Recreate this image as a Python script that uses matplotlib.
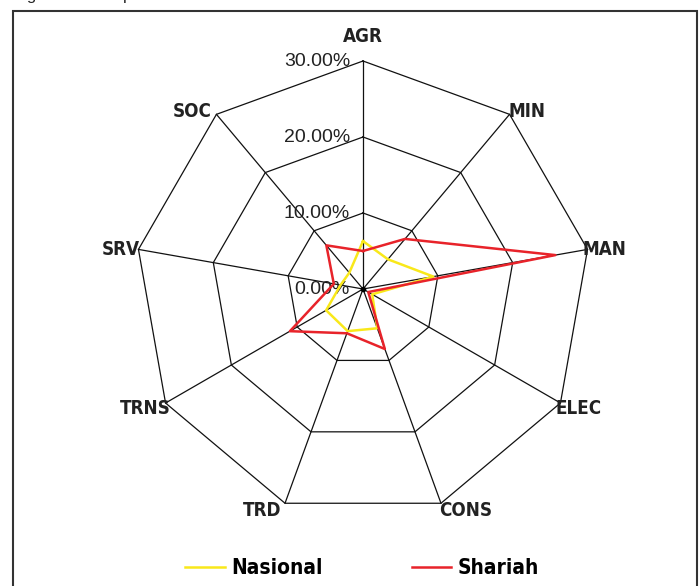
import numpy as np
import matplotlib
matplotlib.use("Agg")
from matplotlib import pyplot as plt
from matplotlib.patches import Rectangle

# data (percent)
sectors = ["AGR", "MIN", "MAN", "ELEC", "CONS", "TRD", "TRNS", "SRV", "SOC"]
nasional = [6.3, 5.1, 9.4, 1.4, 5.5, 5.9, 5.6, 3.0, 2.8]
shariah = [5.0, 8.6, 25.7, 0.8, 8.4, 6.2, 11.1, 3.9, 7.5]
rings = [0, 10, 20, 30]
ring_labels = ["0.00%", "10.00%", "20.00%", "30.00%"]

W, H = 700, 586
cx, cy = 363, 289          # centre in pixels (from top-left)
ppu = 7.6                  # pixels per percent

# label nudges (pixels) from each outer vertex, like Excel places them
lab_off = [(0, 24), (17, 3), (17, 0), (18, -6), (25, -7),
           (-23, -7), (-20, -6), (-18, 0), (-24, 3)]

fig = plt.figure(figsize=(W / 100, H / 100), dpi=100)
ax = fig.add_axes([0, 0, 1, 1])
ax.set_xlim(-cx / ppu, (W - cx) / ppu)
ax.set_ylim(-(H - cy) / ppu, cy / ppu)
ax.axis("off")

n = len(sectors)
ang = np.deg2rad(90 - 360 / n * np.arange(n))
ang_c = np.append(ang, ang[0])

# polygon grid and spokes
rmax = rings[-1]
for r in rings[1:]:
    ax.plot(r * np.cos(ang_c), r * np.sin(ang_c), color="#111111", lw=0.9, zorder=1)
for a in ang:
    ax.plot([0, rmax * np.cos(a)], [0, rmax * np.sin(a)], color="#111111", lw=0.9, zorder=1)
ax.plot([0], [0], "o", color="black", ms=3, zorder=1)

# radial labels
for r, lab in zip(rings, ring_labels):
    ax.text(-1.7, r, lab, ha="right", va="center", fontsize=14,
            family="Liberation Sans", color="#222222", zorder=2)

# sector labels
for a, s, off in zip(ang, sectors, lab_off):
    ax.annotate(s, (rmax * np.cos(a), rmax * np.sin(a)), xytext=off,
                textcoords="offset pixels", ha="center", va="center",
                fontsize=13.5, fontweight="bold", fontstretch="condensed",
                family="DejaVu Sans", color="#222222")

# series
vals_n = np.append(nasional, nasional[0])
vals_s = np.append(shariah, shariah[0])
ln1, = ax.plot(vals_n * np.cos(ang_c), vals_n * np.sin(ang_c), color="#F9E81A", lw=1.8,
               label="Nasional", zorder=3)
ln2, = ax.plot(vals_s * np.cos(ang_c), vals_s * np.sin(ang_c), color="#E8232A", lw=1.8,
               label="Shariah", zorder=4)

# frame and title (title is clipped by the top edge, as in the source)
fig.patches.append(Rectangle((13 / W, -0.02), (697 - 13) / W, 1 - 11 / H + 0.02,
                             transform=fig.transFigure, fill=False, lw=1.5,
                             edgecolor="#333333"))
fig.text(13 / W, 1.0, "Figure 4: RRP per sector", ha="left", va="baseline",
         fontsize=12, family="Liberation Sans", color="#222222")

fig.legend(handles=[ln1, ln2], loc="center", bbox_to_anchor=(362 / W, 1 - 568 / H),
           ncol=2, frameon=False, handlelength=1.9, handletextpad=0.3,
           columnspacing=4.3,
           prop={"family": "DejaVu Sans", "size": 15, "weight": "bold",
                 "stretch": "condensed"})

fig.savefig("out.png", dpi=100)
